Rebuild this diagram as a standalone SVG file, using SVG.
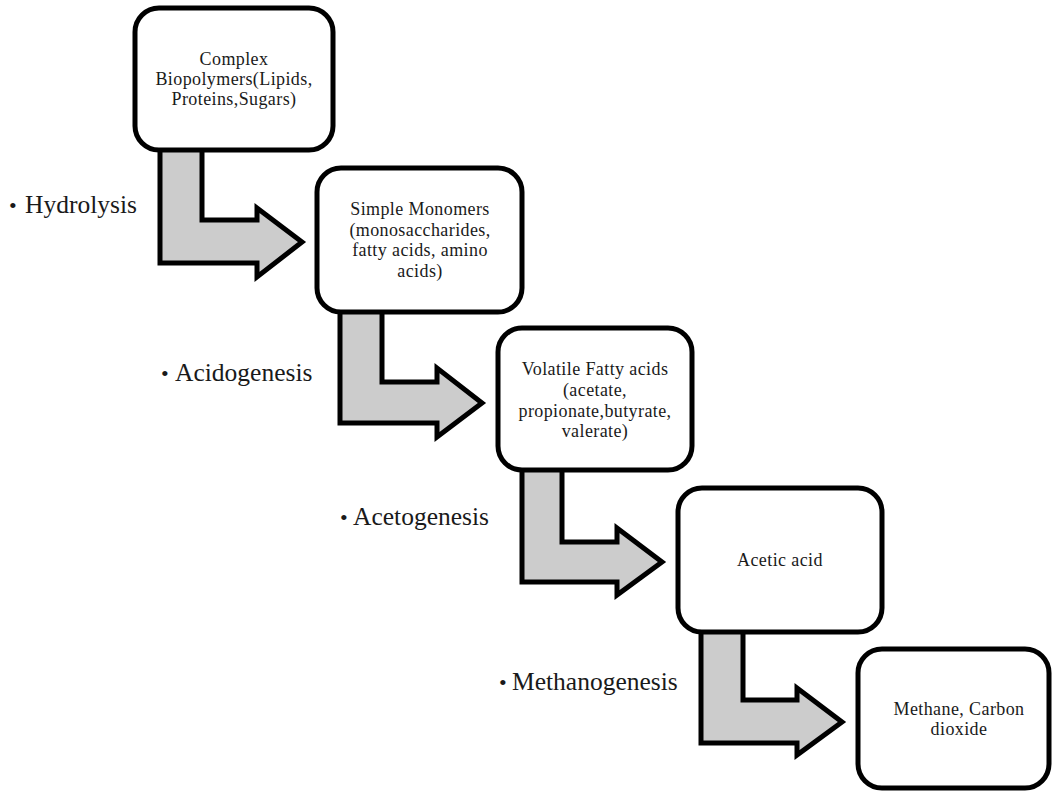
<svg xmlns="http://www.w3.org/2000/svg" width="1053" height="791" viewBox="0 0 1053 791">
<style>
.box{fill:#ffffff;stroke:#000000;stroke-width:5}
.arr{fill:#cccccc;stroke:#000000;stroke-width:5;stroke-linejoin:miter}
.t{font-family:"Liberation Serif","Times New Roman",serif;font-size:18px;letter-spacing:0.4px;fill:#1a1a1a;text-anchor:middle}
.lbl{font-family:"Liberation Serif","Times New Roman",serif;font-size:25.5px;fill:#1a1a1a}
.bul{font-size:22px}
</style>
<rect width="1053" height="791" fill="#ffffff"/>
<g id="connectors">
<polygon class="arr" points="160,148 202,148 202,220 257,220 257,208 302,242 257,277 257,263 160,263"/>
<polygon class="arr" points="340,310 382,310 382,382 437,382 437,368 482,403 437,437 437,423 340,423"/>
<polygon class="arr" points="522,468 562,468 562,542 617,542 617,528 662,562 617,595 617,582 522,582"/>
<polygon class="arr" points="701,630 743,630 743,700 797,700 797,688 842,722 797,755 797,743 701,743"/>
</g>
<g id="node1">
<rect class="box" x="135" y="8" width="198" height="142" rx="24"/>
<text class="t"><tspan x="234" y="65">Complex</tspan><tspan x="234" y="85">Biopolymers(Lipids,</tspan><tspan x="234" y="105">Proteins,Sugars)</tspan></text>
</g>
<g id="node2">
<rect class="box" x="317" y="168" width="205" height="144" rx="24"/>
<text class="t"><tspan x="420" y="215">Simple Monomers</tspan><tspan x="420" y="236">(monosaccharides,</tspan><tspan x="420" y="256">fatty acids, amino</tspan><tspan x="420" y="277">acids)</tspan></text>
</g>
<g id="node3">
<rect class="box" x="498" y="328" width="194" height="142" rx="24"/>
<text class="t"><tspan x="595" y="375">Volatile Fatty acids</tspan><tspan x="595" y="396">(acetate,</tspan><tspan x="595" y="417">propionate,butyrate,</tspan><tspan x="595" y="437">valerate)</tspan></text>
</g>
<g id="node4">
<rect class="box" x="678" y="488" width="204" height="144" rx="24"/>
<text class="t" x="780" y="566">Acetic acid</text>
</g>
<g id="node5">
<rect class="box" x="858" y="649" width="191" height="139" rx="24"/>
<text class="t"><tspan x="959" y="715">Methane, Carbon</tspan><tspan x="959" y="735">dioxide</tspan></text>
</g>
<g id="labels">
<text class="lbl"><tspan class="bul" x="9" y="213">•</tspan><tspan x="25" y="213">Hydrolysis</tspan></text>
<text class="lbl"><tspan class="bul" x="161" y="381">•</tspan><tspan x="175" y="381">Acidogenesis</tspan></text>
<text class="lbl"><tspan class="bul" x="340" y="525">•</tspan><tspan x="353" y="525">Acetogenesis</tspan></text>
<text class="lbl"><tspan class="bul" x="499" y="690">•</tspan><tspan x="512" y="690">Methanogenesis</tspan></text>
</g>
</svg>
